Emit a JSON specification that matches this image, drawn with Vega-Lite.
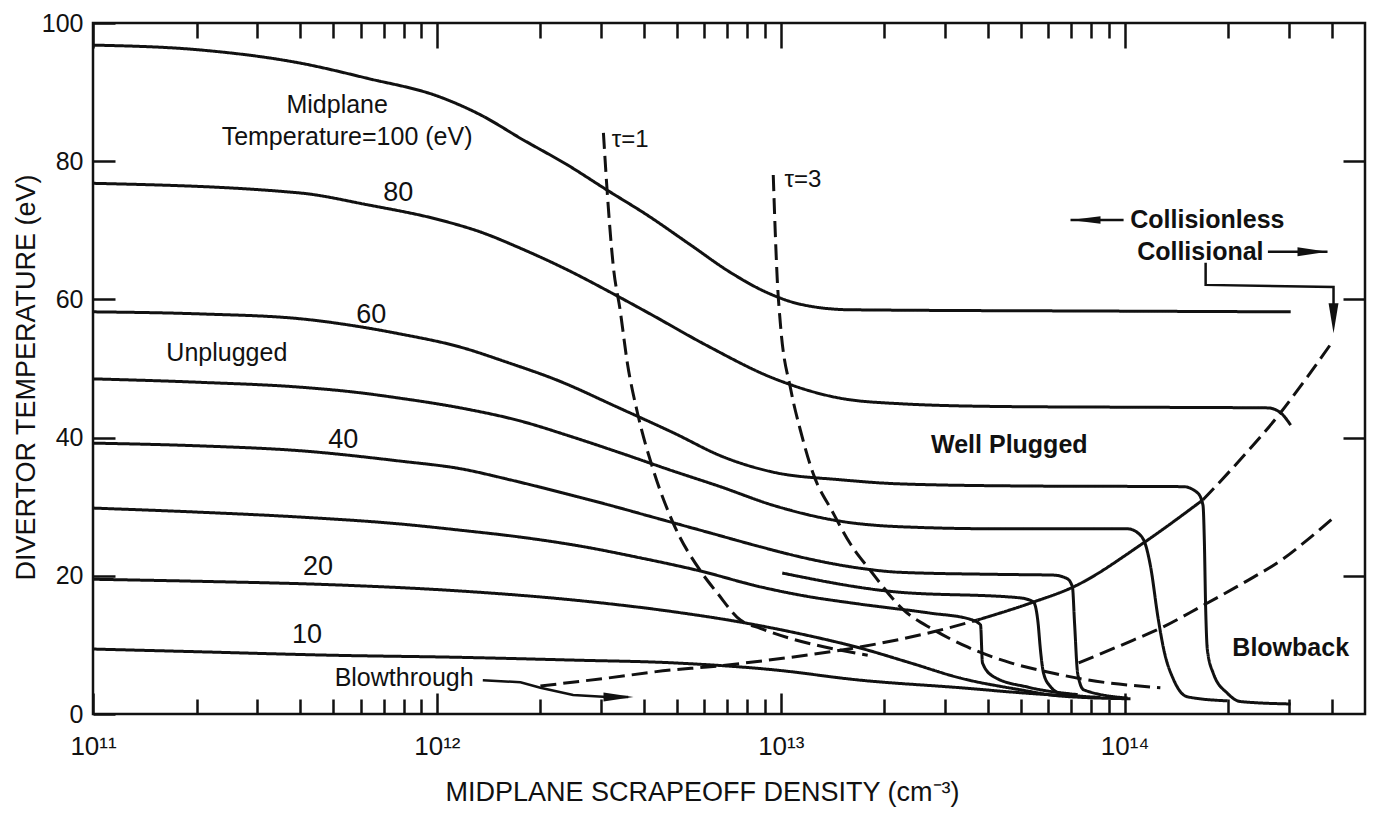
{
  "$schema": "https://vega.github.io/schema/vega-lite/v6.json",
  "width": 1272,
  "height": 691,
  "autosize": {"type": "none"},
  "padding": {"left": 93, "top": 23, "right": 9, "bottom": 102},
  "background": "white",
  "title": {"text": "#81T0120", "anchor": "end", "fontSize": 22, "font": "Liberation Sans", "fontWeight": "normal", "color": "#111", "offset": 14, "baseline": "bottom", "dx": 18},
  "datasets": {
    "curves": [
      {"c":"T100","s":"solid","i":0,"x":1e11,"y":96.8},{"c":"T100","s":"solid","i":1,"x":2.05e11,"y":96.1},{"c":"T100","s":"solid","i":2,"x":4.0e11,"y":94.2},{"c":"T100","s":"solid","i":3,"x":6.27e11,"y":92.0},{"c":"T100","s":"solid","i":4,"x":1.02e12,"y":89.3},{"c":"T100","s":"solid","i":5,"x":1.34e12,"y":86.7},{"c":"T100","s":"solid","i":6,"x":1.78e12,"y":83.1},{"c":"T100","s":"solid","i":7,"x":2.39e12,"y":79.5},{"c":"T100","s":"solid","i":8,"x":3.13e12,"y":75.8},{"c":"T100","s":"solid","i":9,"x":4.09e12,"y":72.2},{"c":"T100","s":"solid","i":10,"x":5.46e12,"y":67.9},{"c":"T100","s":"solid","i":11,"x":7.14e12,"y":63.9},{"c":"T100","s":"solid","i":12,"x":9.02e12,"y":61.1},{"c":"T100","s":"solid","i":13,"x":1.14e13,"y":59.3},{"c":"T100","s":"solid","i":14,"x":1.59e13,"y":58.5},{"c":"T100","s":"solid","i":15,"x":1e14,"y":58.3},{"c":"T100","s":"solid","i":16,"x":3.04e14,"y":58.2},

      {"c":"T80","s":"solid","i":0,"x":1e11,"y":76.8},{"c":"T80","s":"solid","i":1,"x":4.0e11,"y":75.4},{"c":"T80","s":"solid","i":2,"x":6.27e11,"y":73.7},{"c":"T80","s":"solid","i":3,"x":1.02e12,"y":71.5},{"c":"T80","s":"solid","i":4,"x":1.34e12,"y":69.75},{"c":"T80","s":"solid","i":5,"x":1.75e12,"y":67.4},{"c":"T80","s":"solid","i":6,"x":2.39e12,"y":64.3},{"c":"T80","s":"solid","i":7,"x":3.26e12,"y":60.8},{"c":"T80","s":"solid","i":8,"x":4.17e12,"y":57.9},{"c":"T80","s":"solid","i":9,"x":6.11e12,"y":53.3},{"c":"T80","s":"solid","i":10,"x":9.51e12,"y":48.6},{"c":"T80","s":"solid","i":11,"x":1.49e13,"y":45.7},{"c":"T80","s":"solid","i":12,"x":2.23e13,"y":44.9},{"c":"T80","s":"solid","i":13,"x":4.35e13,"y":44.5},{"c":"T80","s":"solid","i":14,"x":1e14,"y":44.4},{"c":"T80","s":"solid","i":15,"x":2.61e14,"y":44.3},{"c":"T80","s":"solid","i":16,"x":2.84e14,"y":43.6},{"c":"T80","s":"solid","i":17,"x":3.04e14,"y":41.8},

      {"c":"T60","s":"solid","i":0,"x":1e11,"y":58.2},{"c":"T60","s":"solid","i":1,"x":2.05e11,"y":57.9},{"c":"T60","s":"solid","i":2,"x":4.0e11,"y":57.2},{"c":"T60","s":"solid","i":3,"x":5.71e11,"y":56.2},{"c":"T60","s":"solid","i":4,"x":7.82e11,"y":55.0},{"c":"T60","s":"solid","i":5,"x":1.17e12,"y":53.1},{"c":"T60","s":"solid","i":6,"x":1.6e12,"y":50.9},{"c":"T60","s":"solid","i":7,"x":2.24e12,"y":48.3},{"c":"T60","s":"solid","i":8,"x":3.35e12,"y":44.4},{"c":"T60","s":"solid","i":9,"x":4.87e12,"y":40.7},{"c":"T60","s":"solid","i":10,"x":6.81e12,"y":37.2},{"c":"T60","s":"solid","i":11,"x":9.51e12,"y":35.0},{"c":"T60","s":"solid","i":12,"x":1.49e13,"y":33.9},{"c":"T60","s":"solid","i":13,"x":2.23e13,"y":33.3},{"c":"T60","s":"solid","i":14,"x":5e13,"y":33.0},{"c":"T60","s":"solid","i":15,"x":1.48e14,"y":32.9},{"c":"T60","s":"solid","i":16,"x":1.63e14,"y":32.0},{"c":"T60","s":"solid","i":17,"x":1.69e14,"y":30.2},{"c":"T60","s":"solid","i":18,"x":1.705e14,"y":25.2},{"c":"T60","s":"solid","i":19,"x":1.72e14,"y":15.5},{"c":"T60","s":"solid","i":20,"x":1.74e14,"y":9.3},{"c":"T60","s":"solid","i":21,"x":1.81e14,"y":5.9},{"c":"T60","s":"solid","i":22,"x":1.99e14,"y":3.0},{"c":"T60","s":"solid","i":23,"x":2.17e14,"y":1.8},{"c":"T60","s":"solid","i":24,"x":3.04e14,"y":1.45},

      {"c":"T50","s":"solid","i":0,"x":1e11,"y":48.5},{"c":"T50","s":"solid","i":1,"x":2.05e11,"y":48.0},{"c":"T50","s":"solid","i":2,"x":4.0e11,"y":47.3},{"c":"T50","s":"solid","i":3,"x":5.71e11,"y":46.6},{"c":"T50","s":"solid","i":4,"x":7.82e11,"y":45.7},{"c":"T50","s":"solid","i":5,"x":1.17e12,"y":44.3},{"c":"T50","s":"solid","i":6,"x":1.75e12,"y":42.4},{"c":"T50","s":"solid","i":7,"x":2.44e12,"y":40.2},{"c":"T50","s":"solid","i":8,"x":3.41e12,"y":37.8},{"c":"T50","s":"solid","i":9,"x":4.77e12,"y":35.3},{"c":"T50","s":"solid","i":10,"x":6.67e12,"y":32.9},{"c":"T50","s":"solid","i":11,"x":9.51e12,"y":30.2},{"c":"T50","s":"solid","i":12,"x":1.49e13,"y":27.9},{"c":"T50","s":"solid","i":13,"x":2.23e13,"y":27.1},{"c":"T50","s":"solid","i":14,"x":4.35e13,"y":26.8},{"c":"T50","s":"solid","i":15,"x":1.02e14,"y":26.8},{"c":"T50","s":"solid","i":16,"x":1.11e14,"y":25.9},{"c":"T50","s":"solid","i":17,"x":1.15e14,"y":24.5},{"c":"T50","s":"solid","i":18,"x":1.19e14,"y":21.3},{"c":"T50","s":"solid","i":19,"x":1.25e14,"y":14.0},{"c":"T50","s":"solid","i":20,"x":1.30e14,"y":9.3},{"c":"T50","s":"solid","i":21,"x":1.39e14,"y":4.9},{"c":"T50","s":"solid","i":22,"x":1.52e14,"y":2.5},{"c":"T50","s":"solid","i":23,"x":1.99e14,"y":1.9},

      {"c":"T40","s":"solid","i":0,"x":1e11,"y":39.2},{"c":"T40","s":"solid","i":1,"x":2.05e11,"y":38.8},{"c":"T40","s":"solid","i":2,"x":4.0e11,"y":38.1},{"c":"T40","s":"solid","i":3,"x":7.82e11,"y":36.6},{"c":"T40","s":"solid","i":4,"x":1.17e12,"y":35.5},{"c":"T40","s":"solid","i":5,"x":1.63e12,"y":33.9},{"c":"T40","s":"solid","i":6,"x":2.28e12,"y":32.1},{"c":"T40","s":"solid","i":7,"x":3.19e12,"y":30.2},{"c":"T40","s":"solid","i":8,"x":4.46e12,"y":28.2},{"c":"T40","s":"solid","i":9,"x":6.24e12,"y":26.2},{"c":"T40","s":"solid","i":10,"x":8.72e12,"y":24.2},{"c":"T40","s":"solid","i":11,"x":1.22e13,"y":22.4},{"c":"T40","s":"solid","i":12,"x":1.70e13,"y":21.1},{"c":"T40","s":"solid","i":13,"x":2.23e13,"y":20.5},{"c":"T40","s":"solid","i":14,"x":4.35e13,"y":20.2},{"c":"T40","s":"solid","i":15,"x":6.21e13,"y":20.1},{"c":"T40","s":"solid","i":16,"x":6.8e13,"y":19.6},{"c":"T40","s":"solid","i":17,"x":7.05e13,"y":18.4},{"c":"T40","s":"solid","i":18,"x":7.15e13,"y":13.2},{"c":"T40","s":"solid","i":19,"x":7.3e13,"y":5.9},{"c":"T40","s":"solid","i":20,"x":7.6e13,"y":3.5},{"c":"T40","s":"solid","i":21,"x":1.02e14,"y":2.3},

      {"c":"B","s":"solid","i":0,"x":1.01e13,"y":20.4},{"c":"B","s":"solid","i":1,"x":2.13e13,"y":17.7},{"c":"B","s":"solid","i":2,"x":4.98e13,"y":16.8},{"c":"B","s":"solid","i":3,"x":5.43e13,"y":16.2},{"c":"B","s":"solid","i":4,"x":5.6e13,"y":13.2},{"c":"B","s":"solid","i":5,"x":5.69e13,"y":9.3},{"c":"B","s":"solid","i":6,"x":5.81e13,"y":5.9},{"c":"B","s":"solid","i":7,"x":6.1e13,"y":3.9},{"c":"B","s":"solid","i":8,"x":6.51e13,"y":3.0},{"c":"B","s":"solid","i":9,"x":8.5e13,"y":2.4},

      {"c":"T30","s":"solid","i":0,"x":1e11,"y":29.8},{"c":"T30","s":"solid","i":1,"x":2.05e11,"y":29.2},{"c":"T30","s":"solid","i":2,"x":4.0e11,"y":28.5},{"c":"T30","s":"solid","i":3,"x":7.82e11,"y":27.5},{"c":"T30","s":"solid","i":4,"x":1.17e12,"y":26.6},{"c":"T30","s":"solid","i":5,"x":1.75e12,"y":25.6},{"c":"T30","s":"solid","i":6,"x":2.61e12,"y":24.3},{"c":"T30","s":"solid","i":7,"x":3.9e12,"y":22.6},{"c":"T30","s":"solid","i":8,"x":5.83e12,"y":20.7},{"c":"T30","s":"solid","i":9,"x":8.72e12,"y":18.4},{"c":"T30","s":"solid","i":10,"x":1.14e13,"y":17.2},{"c":"T30","s":"solid","i":11,"x":1.70e13,"y":15.9},{"c":"T30","s":"solid","i":12,"x":2.72e13,"y":14.6},{"c":"T30","s":"solid","i":13,"x":3.56e13,"y":13.7},{"c":"T30","s":"solid","i":14,"x":3.81e13,"y":12.9},{"c":"T30","s":"solid","i":15,"x":3.86e13,"y":7.4},{"c":"T30","s":"solid","i":16,"x":4.16e13,"y":5.4},{"c":"T30","s":"solid","i":17,"x":5.22e13,"y":3.9},{"c":"T30","s":"solid","i":18,"x":7.3e13,"y":2.8},

      {"c":"T20","s":"solid","i":0,"x":1e11,"y":19.5},{"c":"T20","s":"solid","i":1,"x":2.05e11,"y":19.2},{"c":"T20","s":"solid","i":2,"x":4.99e11,"y":18.7},{"c":"T20","s":"solid","i":3,"x":1.17e12,"y":17.8},{"c":"T20","s":"solid","i":4,"x":2.49e12,"y":16.5},{"c":"T20","s":"solid","i":5,"x":4.87e12,"y":14.8},{"c":"T20","s":"solid","i":6,"x":7.63e12,"y":13.3},{"c":"T20","s":"solid","i":7,"x":1.14e13,"y":11.6},{"c":"T20","s":"solid","i":8,"x":1.70e13,"y":9.55},{"c":"T20","s":"solid","i":9,"x":2.38e13,"y":7.4},{"c":"T20","s":"solid","i":10,"x":3.33e13,"y":5.2},{"c":"T20","s":"solid","i":11,"x":4.98e13,"y":3.5},{"c":"T20","s":"solid","i":12,"x":6.51e13,"y":2.6},{"c":"T20","s":"solid","i":13,"x":1.04e14,"y":2.2},

      {"c":"T10","s":"solid","i":0,"x":1e11,"y":9.4},{"c":"T10","s":"solid","i":1,"x":2.05e11,"y":9.0},{"c":"T10","s":"solid","i":2,"x":4.99e11,"y":8.5},{"c":"T10","s":"solid","i":3,"x":1.17e12,"y":8.2},{"c":"T10","s":"solid","i":4,"x":2.49e12,"y":7.8},{"c":"T10","s":"solid","i":5,"x":4.87e12,"y":7.4},{"c":"T10","s":"solid","i":6,"x":9.51e12,"y":6.4},{"c":"T10","s":"solid","i":7,"x":1.7e13,"y":4.9},{"c":"T10","s":"solid","i":8,"x":3.33e13,"y":3.8},{"c":"T10","s":"solid","i":9,"x":5.22e13,"y":3.0},{"c":"T10","s":"solid","i":10,"x":7e13,"y":2.6},

      {"c":"tau1","s":"dash","i":0,"x":3.05e12,"y":84.1},{"c":"tau1","s":"dash","i":1,"x":3.13e12,"y":75.4},{"c":"tau1","s":"dash","i":2,"x":3.26e12,"y":64.7},{"c":"tau1","s":"dash","i":3,"x":3.41e12,"y":58.5},{"c":"tau1","s":"dash","i":4,"x":3.58e12,"y":50.8},{"c":"tau1","s":"dash","i":5,"x":3.83e12,"y":43.6},{"c":"tau1","s":"dash","i":6,"x":4.26e12,"y":35.3},{"c":"tau1","s":"dash","i":7,"x":4.87e12,"y":27.6},{"c":"tau1","s":"dash","i":8,"x":5.9e12,"y":20.4},{"c":"tau1","s":"dash","i":9,"x":6.54e12,"y":17.5},{"c":"tau1","s":"dash","i":10,"x":7.63e12,"y":13.6},{"c":"tau1","s":"dash","i":11,"x":8.72e12,"y":12.4},{"c":"tau1","s":"dash","i":12,"x":1.79e13,"y":8.5},

      {"c":"tau3","s":"dash","i":0,"x":9.51e12,"y":78.0},{"c":"tau3","s":"dash","i":1,"x":9.64e12,"y":69.6},{"c":"tau3","s":"dash","i":2,"x":9.77e12,"y":62.8},{"c":"tau3","s":"dash","i":3,"x":9.97e12,"y":56.6},{"c":"tau3","s":"dash","i":4,"x":1.07e13,"y":46.9},{"c":"tau3","s":"dash","i":5,"x":1.14e13,"y":41.1},{"c":"tau3","s":"dash","i":6,"x":1.24e13,"y":34.9},{"c":"tau3","s":"dash","i":7,"x":1.42e13,"y":29.1},{"c":"tau3","s":"dash","i":8,"x":1.59e13,"y":24.7},{"c":"tau3","s":"dash","i":9,"x":1.82e13,"y":20.8},{"c":"tau3","s":"dash","i":10,"x":2.27e13,"y":15.1},{"c":"tau3","s":"dash","i":11,"x":2.78e13,"y":12.2},{"c":"tau3","s":"dash","i":12,"x":3.49e13,"y":9.7},{"c":"tau3","s":"dash","i":13,"x":4.66e13,"y":7.4},{"c":"tau3","s":"dash","i":14,"x":6.21e13,"y":5.9},{"c":"tau3","s":"dash","i":15,"x":7.45e13,"y":5.1},{"c":"tau3","s":"dash","i":16,"x":1.27e14,"y":3.8},

      {"c":"rise1","s":"dash","i":0,"x":2.0e12,"y":4.05},{"c":"rise1","s":"dash","i":1,"x":3.13e12,"y":5.2},{"c":"rise1","s":"dash","i":2,"x":4.87e12,"y":6.4},{"c":"rise1","s":"dash","i":3,"x":6.11e12,"y":6.8},{"c":"rise1","s":"dash","i":4,"x":9.2e12,"y":7.8},{"c":"rise1","s":"dash","i":5,"x":1.7e13,"y":9.7},{"c":"rise1","s":"dash","i":6,"x":2.78e13,"y":11.9},{"c":"rise1","s":"dash","i":7,"x":3.73e13,"y":13.6},
      {"c":"rise2","s":"solid","i":0,"x":3.73e13,"y":13.6},{"c":"rise2","s":"solid","i":1,"x":5.43e13,"y":16.2},{"c":"rise2","s":"solid","i":2,"x":7.1e13,"y":18.4},{"c":"rise2","s":"solid","i":3,"x":1.13e14,"y":24.7},{"c":"rise2","s":"solid","i":4,"x":1.69e14,"y":31.0},
      {"c":"rise3","s":"dash","i":0,"x":1.69e14,"y":31.0},{"c":"rise3","s":"dash","i":1,"x":2.07e14,"y":35.7},{"c":"rise3","s":"dash","i":2,"x":2.84e14,"y":43.6},{"c":"rise3","s":"dash","i":3,"x":3.4e14,"y":48.8},{"c":"rise3","s":"dash","i":4,"x":4.05e14,"y":54.1},

      {"c":"low","s":"dash","i":0,"x":7.35e13,"y":7.4},{"c":"low","s":"dash","i":1,"x":1.06e14,"y":10.7},{"c":"low","s":"dash","i":2,"x":1.27e14,"y":12.4},{"c":"low","s":"dash","i":3,"x":1.66e14,"y":15.5},{"c":"low","s":"dash","i":4,"x":2.22e14,"y":19.0},{"c":"low","s":"dash","i":5,"x":2.9e14,"y":22.5},{"c":"low","s":"dash","i":6,"x":3.4e14,"y":25.2},{"c":"low","s":"dash","i":7,"x":4.05e14,"y":28.4}
    ],
    "ann": [
      {"c":"cl","i":0,"x":6.96e13,"y":71.5},{"c":"cl","i":1,"x":9.93e13,"y":71.5},
      {"c":"cr","i":0,"x":2.61e14,"y":66.9},{"c":"cr","i":1,"x":3.89e14,"y":66.9},
      {"c":"br","i":0,"x":1.72e14,"y":65.3},{"c":"br","i":1,"x":1.72e14,"y":62.1},{"c":"br","i":2,"x":4.05e14,"y":61.8},{"c":"br","i":3,"x":4.05e14,"y":56.5},
      {"c":"bt","i":0,"x":1.36e12,"y":4.9},{"c":"bt","i":1,"x":1.75e12,"y":4.6},{"c":"bt","i":2,"x":2.0e12,"y":3.8},{"c":"bt","i":3,"x":2.49e12,"y":2.75},{"c":"bt","i":4,"x":3.13e12,"y":2.46},{"c":"bt","i":5,"x":3.6e12,"y":2.46}
    ],
    "heads": [
      {"x":6.96e13,"y":71.5,"d":"left"},
      {"x":3.89e14,"y":66.9,"d":"right"},
      {"x":4.05e14,"y":55.1,"d":"down"},
      {"x":3.73e12,"y":2.46,"d":"right"}
    ],
    "labels": [
      {"t":"Midplane","x":5.13e11,"y":88.1},
      {"t":"Temperature=100 (eV)","x":5.48e11,"y":83.5},
      {"t":"Unplugged","x":2.45e11,"y":52.2},
      {"t":"Blowthrough","x":8.03e11,"y":5.2}
    ],
    "nums": [
      {"t":"80","x":7.72e11,"y":75.4},
      {"t":"60","x":6.44e11,"y":57.7},
      {"t":"40","x":5.34e11,"y":39.7},
      {"t":"20","x":4.51e11,"y":21.3},
      {"t":"10","x":4.19e11,"y":11.4}
    ],
    "taus": [
      {"t":"τ=1","x":3.65e12,"y":83.1},
      {"t":"τ=3","x":1.16e13,"y":77.3}
    ],
    "bold": [
      {"t":"Collisionless","x":1.74e14,"y":71.5},
      {"t":"Collisional","x":1.66e14,"y":66.9},
      {"t":"Well Plugged","x":4.62e13,"y":38.9},
      {"t":"Blowback","x":3.04e14,"y":9.55}
    ]
  },
  "layer": [
    {
      "data": {"name": "curves"},
      "mark": {"type": "line", "interpolate": "monotone", "strokeWidth": 3, "color": "#111"},
      "encoding": {
        "x": {"field": "x", "type": "quantitative", "scale": {"type": "log", "domain": [1e11, 5e14], "nice": false},
          "axis": {"orient": "bottom", "values": [1e11, 1e12, 1e13, 1e14], "tickSize": -21, "labelPadding": 40, "labelFontSize": 26,
            "labelExpr": "'10' + ['¹¹','¹²','¹³','¹⁴'][round(log(datum.value)/LN10) - 11]",
            "title": "MIDPLANE SCRAPEOFF DENSITY (cm⁻³)", "titleFontSize": 27, "titleX": 609, "titleY": 86, "titleBaseline": "alphabetic", "titleAlign": "center"}},
        "y": {"field": "y", "type": "quantitative", "scale": {"domain": [0, 100], "nice": false},
          "axis": {"orient": "left", "values": [0, 20, 40, 60, 80, 100], "tickSize": -22, "labelPadding": 32, "labelFontSize": 25,
            "title": "DIVERTOR TEMPERATURE (eV)", "titleFontSize": 27, "titleX": -53, "titleY": 354, "titleAngle": 270, "titleBaseline": "bottom", "titleAlign": "center"}},
        "detail": {"field": "c"},
        "order": {"field": "i"},
        "strokeDash": {"field": "s", "type": "nominal", "scale": {"domain": ["solid", "dash"], "range": [[1, 0], [16, 7]]}, "legend": null}
      }
    },
    {
      "data": {"name": "ann"},
      "mark": {"type": "line", "interpolate": "linear", "strokeWidth": 2.5, "color": "#111"},
      "encoding": {
        "x": {"field": "x", "type": "quantitative", "scale": {"type": "log", "domain": [1e11, 5e14], "nice": false},
          "axis": {"orient": "bottom", "values": [2e11,3e11,4e11,5e11,6e11,7e11,8e11,9e11,2e12,3e12,4e12,5e12,6e12,7e12,8e12,9e12,2e13,3e13,4e13,5e13,6e13,7e13,8e13,9e13,2e14,3e14,4e14], "tickSize": -15, "labels": false, "title": null}},
        "y": {"field": "y", "type": "quantitative", "scale": {"domain": [0, 100], "nice": false},
          "axis": {"orient": "right", "values": [20, 40, 60, 80], "tickSize": -22, "labels": false, "title": null}},
        "detail": {"field": "c"},
        "order": {"field": "i"}
      }
    },
    {
      "data": {"name": "heads"},
      "mark": {"type": "point", "filled": true, "opacity": 1, "color": "#111", "size": 900},
      "encoding": {
        "x": {"field": "x", "type": "quantitative", "scale": {"type": "log", "domain": [1e11, 5e14], "nice": false},
          "axis": {"orient": "top", "values": [1e11, 1e12, 1e13, 1e14], "tickSize": -25, "labels": false, "title": null}},
        "y": {"field": "y", "type": "quantitative", "scale": {"domain": [0, 100], "nice": false}, "axis": null},
        "shape": {"field": "d", "type": "nominal", "scale": {"domain": ["left", "right", "down"], "range": ["M0,0L2,-0.25L2,0.25Z", "M0,0L-2,-0.3L-2,0.3Z", "M0,0L-0.33,-2L0.33,-2Z"]}, "legend": null}
      }
    },
    {
      "data": {"name": "labels"},
      "mark": {"type": "text", "fontSize": 25, "font": "Liberation Sans", "color": "#111", "align": "center", "baseline": "middle"},
      "encoding": {
        "x": {"field": "x", "type": "quantitative", "scale": {"type": "log", "domain": [1e11, 5e14], "nice": false},
          "axis": {"orient": "top", "values": [2e11,3e11,4e11,5e11,6e11,7e11,8e11,9e11,2e12,3e12,4e12,5e12,6e12,7e12,8e12,9e12,2e13,3e13,4e13,5e13,6e13,7e13,8e13,9e13,2e14,3e14,4e14], "tickSize": -15, "labels": false, "title": null}},
        "y": {"field": "y", "type": "quantitative", "scale": {"domain": [0, 100], "nice": false}, "axis": null},
        "text": {"field": "t"}
      }
    },
    {
      "data": {"name": "nums"},
      "mark": {"type": "text", "fontSize": 27, "font": "Liberation Sans", "color": "#111", "align": "center", "baseline": "middle"},
      "encoding": {
        "x": {"field": "x", "type": "quantitative", "scale": {"type": "log", "domain": [1e11, 5e14], "nice": false}, "axis": null},
        "y": {"field": "y", "type": "quantitative", "scale": {"domain": [0, 100], "nice": false}, "axis": null},
        "text": {"field": "t"}
      }
    },
    {
      "data": {"name": "taus"},
      "mark": {"type": "text", "fontSize": 24, "font": "Liberation Sans", "color": "#111", "align": "center", "baseline": "middle"},
      "encoding": {
        "x": {"field": "x", "type": "quantitative", "scale": {"type": "log", "domain": [1e11, 5e14], "nice": false}, "axis": null},
        "y": {"field": "y", "type": "quantitative", "scale": {"domain": [0, 100], "nice": false}, "axis": null},
        "text": {"field": "t"}
      }
    },
    {
      "data": {"name": "bold"},
      "mark": {"type": "text", "fontSize": 25, "font": "Liberation Sans", "fontWeight": "bold", "color": "#111", "align": "center", "baseline": "middle"},
      "encoding": {
        "x": {"field": "x", "type": "quantitative", "scale": {"type": "log", "domain": [1e11, 5e14], "nice": false}, "axis": null},
        "y": {"field": "y", "type": "quantitative", "scale": {"domain": [0, 100], "nice": false}, "axis": null},
        "text": {"field": "t"}
      }
    }
  ],
  "resolve": {"axis": {"x": "independent", "y": "independent"}},
  "config": {
    "view": {"stroke": "#111", "strokeWidth": 2.5},
    "axis": {"domain": false, "grid": false, "ticks": true, "tickColor": "#111", "tickWidth": 2.5, "labelFont": "Liberation Sans", "labelColor": "#111", "titleFont": "Liberation Sans", "titleColor": "#111", "titleFontWeight": "normal", "labelFlush": false, "labelOverlap": false}
  }
}
